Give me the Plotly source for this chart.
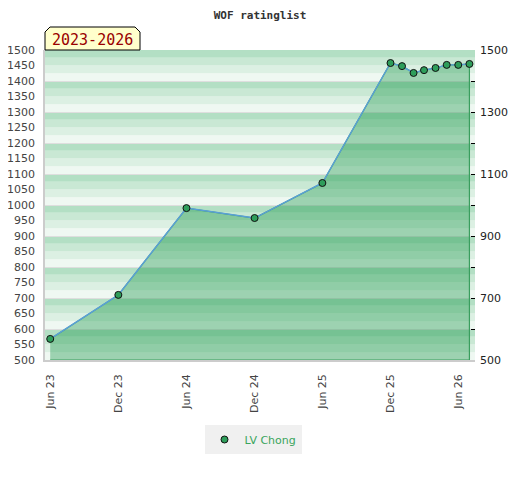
import plotly.graph_objects as go

dates = ["2023-06-01", "2023-12-01", "2024-06-01", "2024-12-01", "2025-06-01",
         "2025-12-01", "2026-01-01", "2026-02-01", "2026-03-01", "2026-04-01",
         "2026-05-01", "2026-06-01", "2026-07-01"]
ratings = [568, 710, 990, 958, 1071, 1458, 1448, 1426, 1435, 1442, 1452, 1452, 1455]

x_tick_vals = ["2023-06-01", "2023-12-01", "2024-06-01", "2024-12-01",
               "2025-06-01", "2025-12-01", "2026-06-01"]
x_tick_text = ["Jun 23", "Dec 23", "Jun 24", "Dec 24", "Jun 25", "Dec 25", "Jun 26"]
left_ticks = list(range(500, 1501, 50))
right_ticks = list(range(500, 1501, 100))
right_text = [str(v) if (v - 500) % 200 == 0 else "" for v in right_ticks]

Y_MIN, Y_MAX = 500, 1500
band_colors = ["#eff8f2", "#dcf0e3", "#c9e8d4", "#b3dfc4"]  # bottom->top within each 100

W, H = 512, 472          # page body has an 8px margin in the 520x480 window
ML, MT, MR, MB = 37, 42, 45, 120
PW, PH = W - ML - MR, H - MT - MB   # 430 x 310

fig = go.Figure()

shapes = []
for h in range(Y_MIN, Y_MAX, 100):
    for i, c in enumerate(band_colors):
        shapes.append(dict(type="rect", xref="paper", yref="y", x0=0, x1=1,
                           y0=h + 25 * i, y1=h + 25 * (i + 1),
                           fillcolor=c, line=dict(width=0), layer="below"))

# filled area polygon
fig.add_trace(go.Scatter(
    x=dates + [dates[-1], dates[0]],
    y=ratings + [Y_MIN, Y_MIN],
    fill="toself", fillcolor="rgba(10,145,60,0.36)",
    mode="lines", line=dict(color="#3a9e5e", width=1.2),
    showlegend=False, hoverinfo="skip"))

fig.add_trace(go.Scatter(
    x=dates, y=ratings, mode="lines",
    line=dict(color="#5a9fd8", width=1.4),
    showlegend=False, hoverinfo="skip"))

fig.add_trace(go.Scatter(
    x=dates, y=ratings, mode="markers", name="LV Chong",
    marker=dict(color="#2e9e5b", size=7, line=dict(color="#111111", width=1))))

# invisible trace for right axis
fig.add_trace(go.Scatter(x=[dates[0]], y=[Y_MIN], yaxis="y2", mode="markers",
                         marker=dict(opacity=0), showlegend=False, hoverinfo="skip"))

# badge
bx1 = 95 / PW
by1 = 1 + 23 / PH
cx = 5 / PW
cy = 5 / PH
shapes.append(dict(type="path", xref="paper", yref="paper",
                   path=f"M 0,1 L 0,{by1-cy} L {cx},{by1} L {bx1-cx},{by1} L {bx1},{by1-cy} L {bx1},1 Z",
                   fillcolor="#ffffcc", line=dict(color="#000000", width=1), layer="above"))

fig.update_layout(
    width=W, height=H,
    margin=dict(l=ML, r=MR, t=MT, b=MB, autoexpand=False),
    paper_bgcolor="white", plot_bgcolor="white",
    shapes=shapes,
    title=dict(text="<b>WOF ratinglist</b>", x=(260 - 8) / W, xanchor="center",
               y=1 - 7 / H, yanchor="middle",
               font=dict(family="DejaVu Sans Mono", size=11, color="#333333")),
    annotations=[dict(text="2023-2026", xref="paper", yref="paper",
                      x=bx1 / 2, y=1 + 10 / PH, xanchor="center", yanchor="middle",
                      showarrow=False,
                      font=dict(family="DejaVu Sans Mono", size=15, color="#990000"))],
    xaxis=dict(type="date", range=["2023-05-18", "2026-07-16"],
               tickvals=x_tick_vals, ticktext=x_tick_text, tickangle=-90,
               showgrid=False, zeroline=False, ticks="", automargin=False,
               showline=True, linecolor="#cccccc", linewidth=1.5,
               ticklabelstandoff=8,
               tickfont=dict(family="DejaVu Sans", size=11, color="#444444")),
    yaxis=dict(range=[Y_MIN, Y_MAX], tickvals=left_ticks, showgrid=False,
               zeroline=False, ticks="", showline=True, linecolor="#cccccc",
               linewidth=1.5, ticklabelstandoff=6, automargin=False,
               tickfont=dict(family="DejaVu Sans", size=11, color="#444444")),
    yaxis2=dict(range=[Y_MIN, Y_MAX], overlaying="y", side="right",
                tickvals=right_ticks, ticktext=right_text, automargin=False,
                ticks="inside", ticklen=4, tickcolor="#000000",
                showgrid=True, gridcolor="#dedede", gridwidth=1,
                zeroline=False, showline=False, ticklabelstandoff=4,
                tickfont=dict(family="DejaVu Sans", size=11, color="#222222")),
    legend=dict(orientation="h", x=(253 - 8 - ML) / PW, xanchor="center",
                y=-65 / PH, yanchor="top", itemwidth=30,
                bgcolor="#f0f0f0", font=dict(family="DejaVu Sans", size=11, color="#3aa55c")),
    showlegend=True,
)

fig.write_html("out.html")
